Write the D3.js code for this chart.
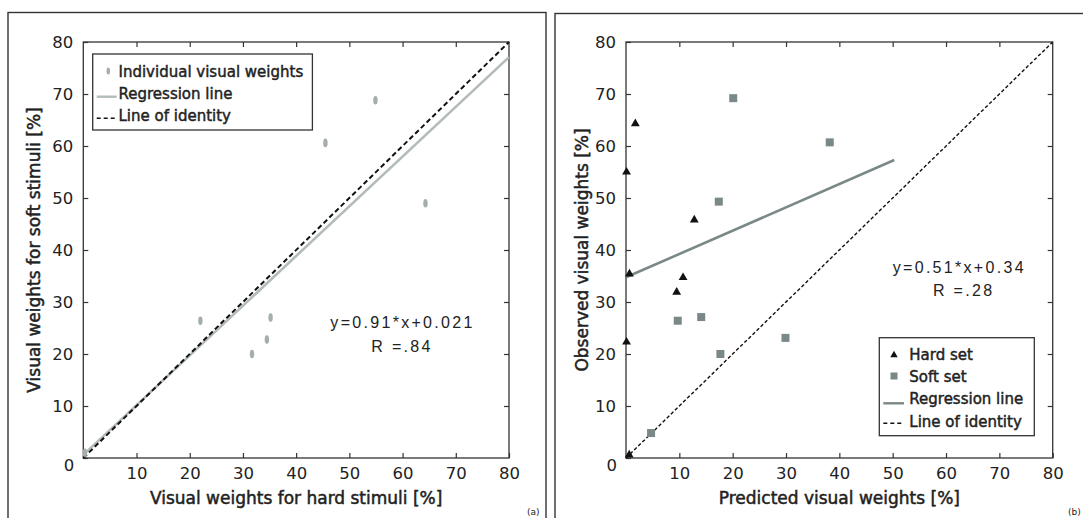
<!DOCTYPE html>
<html>
<head>
<meta charset="utf-8">
<script src="https://cdnjs.cloudflare.com/ajax/libs/d3/7.8.5/d3.min.js"></script>
<style>
  body { margin: 0; background: #fff; }
  svg text { font-family: "DejaVu Sans", Verdana, sans-serif; fill: #222; }
</style>
</head>
<body>
<svg id="chart" width="1083" height="518"></svg>
<script>
// ---- data ----
var ticks = [0, 10, 20, 30, 40, 50, 60, 70, 80];

// panel (a): hard vs soft stimuli
var visX = [0.3, 22.0, 31.7, 34.5, 35.2, 45.5, 54.9, 64.3];
var visY = [1.0, 26.4, 20.0, 22.8, 27.0, 60.6, 68.8, 49.0];
var regAX = [0, 80];
var regAY = [0.6, 77.1];

// panel (b): predicted vs observed
var hardX = [0.6, 0.1, 0.65, 0.1, 12.8, 10.7, 9.5, 1.75];
var hardY = [0.6, 22.3, 35.4, 55.0, 45.8, 34.7, 31.9, 64.3];
var softX = [4.7, 9.7, 14.1, 17.7, 29.9, 17.4, 38.2, 20.1];
var softY = [4.8, 26.4, 27.1, 20.0, 23.1, 49.3, 60.7, 69.2];
var regBX = [0, 50.3];
var regBY = [34.75, 57.3];

var identity = [0, 80];

var svg = d3.select("#chart");

// panel frames
svg.append("rect").attr("x", 8).attr("y", 12.5).attr("width", 538).attr("height", 520)
  .attr("fill", "none").attr("stroke", "#333").attr("stroke-width", 1.4);
svg.append("rect").attr("x", 555).attr("y", 13.5).attr("width", 540).attr("height", 520)
  .attr("fill", "none").attr("stroke", "#333").attr("stroke-width", 1.4);

function panel(left, right, xTitle, yTitle, yTitleX) {
  var x = d3.scaleLinear().domain([0, 80]).range([left, right]);
  var y = d3.scaleLinear().domain([0, 80]).range([458, 42]);
  var g = svg.append("g");

  // box + inward ticks on all sides
  g.append("rect").attr("x", left).attr("y", 42).attr("width", right - left).attr("height", 416)
    .attr("fill", "none").attr("stroke", "#333").attr("stroke-width", 1.3);

  g.append("g").attr("transform", "translate(0,458)")
    .call(d3.axisBottom(x).tickValues(ticks.slice(1)).tickSize(-5).tickPadding(9).tickFormat(d3.format("d")));
  g.append("g").attr("transform", "translate(0,42)")
    .call(d3.axisTop(x).tickValues(ticks.slice(1, 8)).tickSize(-5).tickFormat(""));
  g.append("g").attr("transform", "translate(" + left + ",0)")
    .call(d3.axisLeft(y).tickValues(ticks).tickSize(-5).tickPadding(10).tickFormat(d3.format("d")));
  g.append("g").attr("transform", "translate(" + right + ",0)")
    .call(d3.axisRight(y).tickValues(ticks.slice(1, 8)).tickSize(-5).tickFormat(""));

  g.selectAll(".domain").remove();
  g.selectAll(".tick line").attr("stroke", "#333").attr("stroke-width", 1.2);
  g.selectAll(".tick text").style("font-size", "16.5px").attr("fill", "#222");
  // the 0 label sits slightly lower
  g.selectAll(".tick text").filter(function(d) { return d === 0; })
    .attr("dy", "0.75em").attr("x", -9);

  g.append("text").attr("x", (left + right) / 2).attr("y", 504)
    .attr("text-anchor", "middle").style("font-size", "17px")
    .attr("stroke", "#222").attr("stroke-width", 0.5)
    .text(xTitle);
  g.append("text").attr("transform", "translate(" + yTitleX + ",250) rotate(-90)")
    .attr("text-anchor", "middle").style("font-size", "17px")
    .attr("stroke", "#222").attr("stroke-width", 0.5)
    .text(yTitle);

  return { g: g, x: x, y: y };
}

var line = d3.line();

// ---------- panel (a) ----------
var a = panel(83.3, 509, "Visual weights for hard stimuli [%]", "Visual weights for soft stimuli [%]", 40);

a.g.append("path")
  .attr("d", line(regAX.map(function(v, i) { return [a.x(v), a.y(regAY[i])]; })))
  .attr("stroke", "#b3bcba").attr("stroke-width", 2.6).attr("fill", "none");
a.g.append("path")
  .attr("d", line(identity.map(function(v) { return [a.x(v), a.y(v)]; })))
  .attr("stroke", "#111").attr("stroke-width", 2).attr("stroke-dasharray", "5,3").attr("fill", "none");

a.g.selectAll("ellipse.pt").data(visX).enter().append("ellipse")
  .attr("cx", function(d) { return a.x(d); })
  .attr("cy", function(d, i) { return a.y(visY[i]); })
  .attr("rx", 2.2).attr("ry", 4.3)
  .attr("fill", "#a4aeac");

a.g.append("text").attr("x", 402.5).attr("y", 327.5).attr("text-anchor", "middle")
  .style("font-family", "'Liberation Sans', Arial, sans-serif").style("font-size", "16px")
  .style("letter-spacing", "2.3px").text("y=0.91*x+0.021");
a.g.append("text").attr("x", 402).attr("y", 351.7).attr("text-anchor", "middle")
  .style("font-family", "'Liberation Sans', Arial, sans-serif").style("font-size", "16px")
  .style("letter-spacing", "2.3px").text("R =.84");

// legend (a)
var la = a.g.append("g");
la.append("rect").attr("x", 92.7).attr("y", 54).attr("width", 219.7).attr("height", 76)
  .attr("fill", "#fff").attr("stroke", "#333").attr("stroke-width", 1.3);
la.append("ellipse").attr("cx", 108.3).attr("cy", 71).attr("rx", 1.8).attr("ry", 3.6).attr("fill", "#a4aeac");
la.append("line").attr("x1", 96.7).attr("x2", 116.7).attr("y1", 96.7).attr("y2", 96.7)
  .attr("stroke", "#b3bcba").attr("stroke-width", 2.4);
la.append("line").attr("x1", 96.7).attr("x2", 116.7).attr("y1", 118.3).attr("y2", 118.3)
  .attr("stroke", "#111").attr("stroke-width", 1.6).attr("stroke-dasharray", "4,3");
var legA = ["Individual visual weights", "Regression line", "Line of identity"];
la.selectAll("text").data(legA).enter().append("text")
  .attr("x", 118.5).attr("y", function(d, i) { return 76.5 + i * 22.2; })
  .style("font-size", "15px").attr("stroke", "#222").attr("stroke-width", 0.45)
  .text(function(d) { return d; });

// ---------- panel (b) ----------
var b = panel(626, 1052.7, "Predicted visual weights [%]", "Observed visual weights [%]", 588);

b.g.append("path")
  .attr("d", line(identity.map(function(v) { return [b.x(v), b.y(v)]; })))
  .attr("stroke", "#111").attr("stroke-width", 1.4).attr("stroke-dasharray", "3.5,2.2").attr("fill", "none");
b.g.append("path")
  .attr("d", line(regBX.map(function(v, i) { return [b.x(v), b.y(regBY[i])]; })))
  .attr("stroke", "#7b8888").attr("stroke-width", 2.6).attr("fill", "none");

var tri = d3.symbol().type(d3.symbolTriangle).size(34);
b.g.selectAll("path.hard").data(hardX).enter().append("path").attr("class", "hard")
  .attr("d", tri)
  .attr("transform", function(d, i) { return "translate(" + b.x(d) + "," + b.y(hardY[i]) + ")"; })
  .attr("fill", "#111");
b.g.selectAll("rect.soft").data(softX).enter().append("rect").attr("class", "soft")
  .attr("x", function(d) { return b.x(d) - 4; })
  .attr("y", function(d, i) { return b.y(softY[i]) - 4; })
  .attr("width", 8).attr("height", 8)
  .attr("fill", "#7b8888");

b.g.append("text").attr("x", 959.3).attr("y", 272.7).attr("text-anchor", "middle")
  .style("font-family", "'Liberation Sans', Arial, sans-serif").style("font-size", "16px")
  .style("letter-spacing", "2.3px").text("y=0.51*x+0.34");
b.g.append("text").attr("x", 963.7).attr("y", 295.5).attr("text-anchor", "middle")
  .style("font-family", "'Liberation Sans', Arial, sans-serif").style("font-size", "16px")
  .style("letter-spacing", "2.3px").text("R =.28");

// legend (b)
var lb = b.g.append("g");
lb.append("rect").attr("x", 879.3).attr("y", 337.7).attr("width", 155).attr("height", 98)
  .attr("fill", "#fff").attr("stroke", "#333").attr("stroke-width", 1.3);
lb.append("path").attr("d", d3.symbol().type(d3.symbolTriangle).size(24))
  .attr("transform", "translate(894,355)").attr("fill", "#111");
lb.append("rect").attr("x", 890.5).attr("y", 372.5).attr("width", 7).attr("height", 7).attr("fill", "#7b8888");
lb.append("line").attr("x1", 883.3).attr("x2", 904).attr("y1", 403.3).attr("y2", 403.3)
  .attr("stroke", "#7b8888").attr("stroke-width", 2.4);
lb.append("line").attr("x1", 883.3).attr("x2", 904).attr("y1", 423.3).attr("y2", 423.3)
  .attr("stroke", "#111").attr("stroke-width", 1.6).attr("stroke-dasharray", "4,3");
var legB = ["Hard set", "Soft set", "Regression line", "Line of identity"];
lb.selectAll("text").data(legB).enter().append("text")
  .attr("x", 909.3).attr("y", function(d, i) { return 360 + i * 22.2; })
  .style("font-size", "15px").attr("stroke", "#222").attr("stroke-width", 0.45)
  .text(function(d) { return d; });

// panel tags
svg.append("text").attr("x", 527).attr("y", 515).style("font-size", "9px").text("(a)");
svg.append("text").attr("x", 1068).attr("y", 515).style("font-size", "9px").text("(b)");
</script>
</body>
</html>
